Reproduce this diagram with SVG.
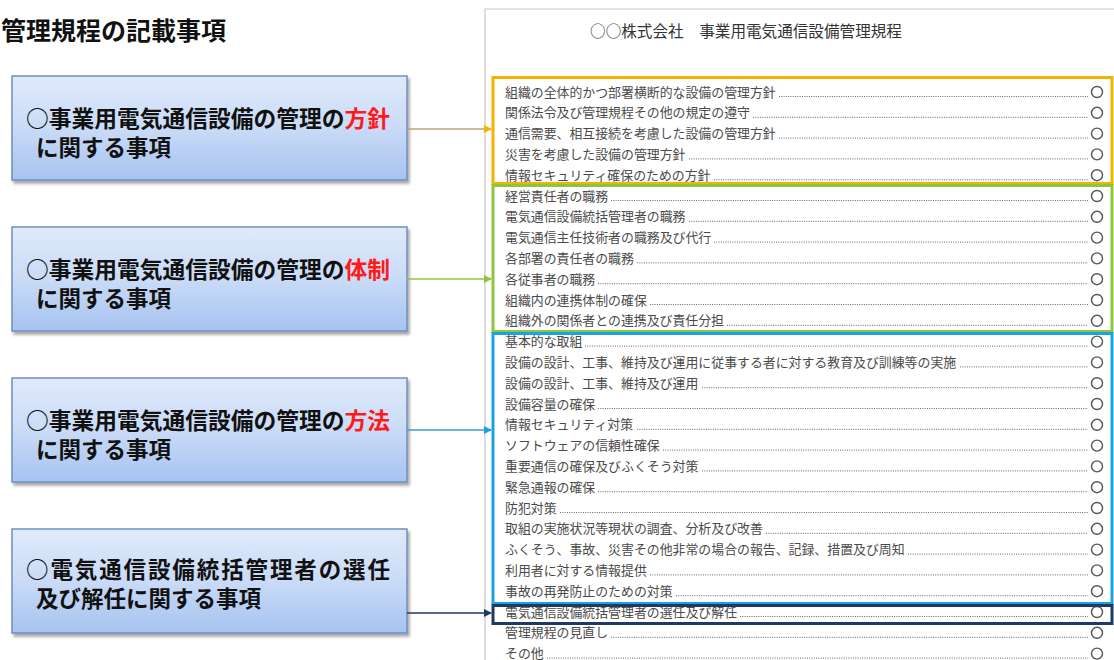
<svg xmlns="http://www.w3.org/2000/svg" width="1114" height="660" viewBox="0 0 1114 660">
<defs>
<linearGradient id="boxg" x1="0" y1="0" x2="0" y2="1">
<stop offset="0" stop-color="#e0eafb"/>
<stop offset="0.5" stop-color="#c9dbf7"/>
<stop offset="1" stop-color="#a6c3f0"/>
</linearGradient>
<filter id="sh" x="-5%" y="-5%" width="112%" height="120%">
<feDropShadow dx="2" dy="3" stdDeviation="1.5" flood-color="#000" flood-opacity="0.35"/>
</filter>
<marker id="mo" markerWidth="8" markerHeight="8" refX="7" refY="4" orient="auto" markerUnits="userSpaceOnUse"><path d="M0,0 L8,4 L0,8 z" fill="#f2b400"/></marker>
<marker id="mg" markerWidth="8" markerHeight="8" refX="7" refY="4" orient="auto" markerUnits="userSpaceOnUse"><path d="M0,0 L8,4 L0,8 z" fill="#8cc63f"/></marker>
<marker id="mb" markerWidth="8" markerHeight="8" refX="7" refY="4" orient="auto" markerUnits="userSpaceOnUse"><path d="M0,0 L8,4 L0,8 z" fill="#1aa3e0"/></marker>
<marker id="mn" markerWidth="8" markerHeight="8" refX="7" refY="4" orient="auto" markerUnits="userSpaceOnUse"><path d="M0,0 L8,4 L0,8 z" fill="#1f3864"/></marker>
</defs>
<style>
.box{fill:url(#boxg);stroke:#6f8fbf;stroke-width:1.5;filter:url(#sh)}
.bt{font-family:"Noto Sans CJK JP","Noto Sans CJK SC",sans-serif;font-weight:700;font-size:22.5px;fill:#111}
.red{fill:#ff1a1a}
.title{font-family:"Noto Sans CJK JP",sans-serif;font-weight:700;font-size:25px;fill:#111}
.dt{font-family:"Noto Sans CJK JP",sans-serif;font-size:15.6px;fill:#333}
.li{font-family:"Noto Sans CJK JP",sans-serif;font-size:12.9px;fill:#4a4a4a}
.dot{stroke:#666;stroke-width:1;stroke-dasharray:1 1.3}
.ck{fill:none;stroke:#555;stroke-width:1.4}
</style>
<rect x="0" y="0" width="1114" height="660" fill="#fff"/>
<text class="title" x="1" y="40">管理規程の記載事項</text>

<g id="document">
<path d="M485,660 L485,9 L1114,9" fill="none" stroke="#c8c8c8" stroke-width="1.2"/>
<text class="dt" x="746" y="37" text-anchor="middle">○○株式会社　事業用電気通信設備管理規程</text>
<g id="rows">
<text class="li" x="505" y="96.5">組織の全体的かつ部署横断的な設備の管理方針</text>
<text class="li" x="505" y="117.3">関係法令及び管理規程その他の規定の遵守</text>
<text class="li" x="505" y="138.1">通信需要、相互接続を考慮した設備の管理方針</text>
<text class="li" x="505" y="158.9">災害を考慮した設備の管理方針</text>
<text class="li" x="505" y="179.7">情報セキュリティ確保のための方針</text>
<text class="li" x="505" y="200.5">経営責任者の職務</text>
<text class="li" x="505" y="221.3">電気通信設備統括管理者の職務</text>
<text class="li" x="505" y="242.1">電気通信主任技術者の職務及び代行</text>
<text class="li" x="505" y="262.9">各部署の責任者の職務</text>
<text class="li" x="505" y="283.7">各従事者の職務</text>
<text class="li" x="505" y="304.5">組織内の連携体制の確保</text>
<text class="li" x="505" y="325.3">組織外の関係者との連携及び責任分担</text>
<text class="li" x="505" y="346.1">基本的な取組</text>
<text class="li" x="505" y="366.9">設備の設計、工事、維持及び運用に従事する者に対する教育及び訓練等の実施</text>
<text class="li" x="505" y="387.7">設備の設計、工事、維持及び運用</text>
<text class="li" x="505" y="408.5">設備容量の確保</text>
<text class="li" x="505" y="429.3">情報セキュリティ対策</text>
<text class="li" x="505" y="450.1">ソフトウェアの信頼性確保</text>
<text class="li" x="505" y="470.9">重要通信の確保及びふくそう対策</text>
<text class="li" x="505" y="491.7">緊急通報の確保</text>
<text class="li" x="505" y="512.5">防犯対策</text>
<text class="li" x="505" y="533.3">取組の実施状況等現状の調査、分析及び改善</text>
<text class="li" x="505" y="554.1">ふくそう、事故、災害その他非常の場合の報告、記録、措置及び周知</text>
<text class="li" x="505" y="574.9">利用者に対する情報提供</text>
<text class="li" x="505" y="595.7">事故の再発防止のための対策</text>
<text class="li" x="505" y="616.5">電気通信設備統括管理者の選任及び解任</text>
<text class="li" x="505" y="637.3">管理規程の見直し</text>
<text class="li" x="505" y="658.1">その他</text>
</g>
<g id="leaders">
<line class="dot" x1="779" y1="96.5" x2="1088" y2="96.5"/>
<line class="dot" x1="753" y1="117.3" x2="1088" y2="117.3"/>
<line class="dot" x1="779" y1="138.1" x2="1088" y2="138.1"/>
<line class="dot" x1="689" y1="158.9" x2="1088" y2="158.9"/>
<line class="dot" x1="714" y1="179.7" x2="1088" y2="179.7"/>
<line class="dot" x1="611" y1="200.5" x2="1088" y2="200.5"/>
<line class="dot" x1="689" y1="221.3" x2="1088" y2="221.3"/>
<line class="dot" x1="714" y1="242.1" x2="1088" y2="242.1"/>
<line class="dot" x1="637" y1="262.9" x2="1088" y2="262.9"/>
<line class="dot" x1="598" y1="283.7" x2="1088" y2="283.7"/>
<line class="dot" x1="650" y1="304.5" x2="1088" y2="304.5"/>
<line class="dot" x1="727" y1="325.3" x2="1088" y2="325.3"/>
<line class="dot" x1="585" y1="346.1" x2="1088" y2="346.1"/>
<line class="dot" x1="960" y1="366.9" x2="1088" y2="366.9"/>
<line class="dot" x1="702" y1="387.7" x2="1088" y2="387.7"/>
<line class="dot" x1="598" y1="408.5" x2="1088" y2="408.5"/>
<line class="dot" x1="637" y1="429.3" x2="1088" y2="429.3"/>
<line class="dot" x1="663" y1="450.1" x2="1088" y2="450.1"/>
<line class="dot" x1="702" y1="470.9" x2="1088" y2="470.9"/>
<line class="dot" x1="598" y1="491.7" x2="1088" y2="491.7"/>
<line class="dot" x1="560" y1="512.5" x2="1088" y2="512.5"/>
<line class="dot" x1="766" y1="533.3" x2="1088" y2="533.3"/>
<line class="dot" x1="908" y1="554.1" x2="1088" y2="554.1"/>
<line class="dot" x1="650" y1="574.9" x2="1088" y2="574.9"/>
<line class="dot" x1="676" y1="595.7" x2="1088" y2="595.7"/>
<line class="dot" x1="740" y1="616.5" x2="1088" y2="616.5"/>
<line class="dot" x1="611" y1="637.3" x2="1088" y2="637.3"/>
<line class="dot" x1="547" y1="658.1" x2="1088" y2="658.1"/>
</g>
<g id="checks">
<circle class="ck" cx="1097" cy="92" r="5.5"/>
<circle class="ck" cx="1097" cy="112.8" r="5.5"/>
<circle class="ck" cx="1097" cy="133.6" r="5.5"/>
<circle class="ck" cx="1097" cy="154.4" r="5.5"/>
<circle class="ck" cx="1097" cy="175.2" r="5.5"/>
<circle class="ck" cx="1097" cy="196" r="5.5"/>
<circle class="ck" cx="1097" cy="216.8" r="5.5"/>
<circle class="ck" cx="1097" cy="237.6" r="5.5"/>
<circle class="ck" cx="1097" cy="258.4" r="5.5"/>
<circle class="ck" cx="1097" cy="279.2" r="5.5"/>
<circle class="ck" cx="1097" cy="300" r="5.5"/>
<circle class="ck" cx="1097" cy="320.8" r="5.5"/>
<circle class="ck" cx="1097" cy="341.6" r="5.5"/>
<circle class="ck" cx="1097" cy="362.4" r="5.5"/>
<circle class="ck" cx="1097" cy="383.2" r="5.5"/>
<circle class="ck" cx="1097" cy="404" r="5.5"/>
<circle class="ck" cx="1097" cy="424.8" r="5.5"/>
<circle class="ck" cx="1097" cy="445.6" r="5.5"/>
<circle class="ck" cx="1097" cy="466.4" r="5.5"/>
<circle class="ck" cx="1097" cy="487.2" r="5.5"/>
<circle class="ck" cx="1097" cy="508" r="5.5"/>
<circle class="ck" cx="1097" cy="528.8" r="5.5"/>
<circle class="ck" cx="1097" cy="549.6" r="5.5"/>
<circle class="ck" cx="1097" cy="570.4" r="5.5"/>
<circle class="ck" cx="1097" cy="591.2" r="5.5"/>
<circle class="ck" cx="1097" cy="612" r="5.5"/>
<circle class="ck" cx="1097" cy="632.8" r="5.5"/>
<circle class="ck" cx="1097" cy="653.6" r="5.5"/>
</g>
<g id="frames" fill="none">
<rect x="493" y="77.5" width="619" height="106" stroke="#f2b400" stroke-width="3"/>
<rect x="493" y="185.5" width="619" height="146" stroke="#8cc63f" stroke-width="3"/>
<rect x="493" y="333.5" width="619" height="270" stroke="#1aa3e0" stroke-width="3"/>
<rect x="493" y="605.5" width="619" height="18" stroke="#1f3864" stroke-width="3"/>
</g>
</g>

<g id="node-policy">
<rect class="box" x="12" y="76" width="395" height="104"/>
<text class="bt" x="26" y="127" textLength="364" lengthAdjust="spacingAndGlyphs">○事業用電気通信設備の管理の<tspan class="red">方針</tspan></text>
<text class="bt" x="36" y="156">に関する事項</text>
</g>
<g id="node-structure">
<rect class="box" x="12" y="227" width="395" height="104"/>
<text class="bt" x="26" y="278" textLength="364" lengthAdjust="spacingAndGlyphs">○事業用電気通信設備の管理の<tspan class="red">体制</tspan></text>
<text class="bt" x="36" y="307">に関する事項</text>
</g>
<g id="node-method">
<rect class="box" x="12" y="378" width="395" height="104"/>
<text class="bt" x="26" y="429" textLength="364" lengthAdjust="spacingAndGlyphs">○事業用電気通信設備の管理の<tspan class="red">方法</tspan></text>
<text class="bt" x="36" y="458">に関する事項</text>
</g>
<g id="node-appointment">
<rect class="box" x="12" y="529" width="395" height="104"/>
<text class="bt" x="26" y="578" textLength="364" lengthAdjust="spacing">○電気通信設備統括管理者の選任</text>
<text class="bt" x="36" y="607">及び解任に関する事項</text>
</g>

<g id="connectors" fill="none" stroke-width="1.5">
<line x1="407" y1="129" x2="491" y2="129" stroke="#b8a878" marker-end="url(#mo)"/>
<line x1="407" y1="279" x2="491" y2="279" stroke="#8cc63f" marker-end="url(#mg)"/>
<line x1="407" y1="430" x2="491" y2="430" stroke="#3aa0d0" marker-end="url(#mb)"/>
<line x1="407" y1="613" x2="491" y2="613" stroke="#1f3864" marker-end="url(#mn)"/>
</g>
</svg>
